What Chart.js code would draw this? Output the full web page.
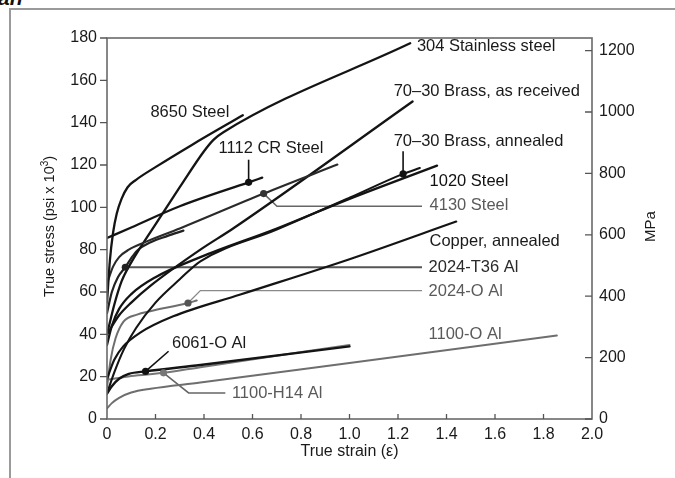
<!DOCTYPE html>
<html><head><meta charset="utf-8">
<script src="https://cdn.jsdelivr.net/npm/chart.js@4/dist/chart.umd.min.js"></script>
<style>
html,body{margin:0;padding:0;background:#fff;width:675px;height:478px;overflow:hidden;position:relative;}
#frame{position:absolute;left:9px;top:8px;width:720px;height:520px;border:2px solid #9a9a9a;box-sizing:border-box;}
#cap{position:absolute;left:-2px;top:-14px;font:italic bold 21px "Liberation Sans",Arial,sans-serif;color:#111;}
#wrap{position:absolute;left:0;top:0;width:675px;height:478px;}
</style></head><body>
<div id="cap">an</div>
<div id="frame"></div>
<div id="wrap"><canvas id="c"></canvas></div>
<script>
// ---- axis ticks ----
const STRAIN_TICKS = [0,0.2,0.4,0.6,0.8,1.0,1.2,1.4,1.6,1.8,2.0];
const STRAIN_TICK_LABELS = ['0','0.2','0.4','0.6','0.8','1.0','1.2','1.4','1.6','1.8','2.0'];
const PSI_TICKS = [0,20,40,60,80,100,120,140,160,180];
const PSI_TICK_LABELS = ['0','20','40','60','80','100','120','140','160','180'];
const MPA_TICKS = [0,200,400,600,800,1000,1200];
const MPA_TICK_LABELS = ['0','200','400','600','800','1000','1200'];
const PSI_TO_MPA = 6.895;

// ---- curves: [true strain, true stress (ksi)] ----
const steel8650 = [[0,55],[0.012,75],[0.025,88],[0.04,97],[0.06,104],[0.085,109.5],[0.12,113],[0.2,119],[0.35,129.5],[0.56,143.5]];
const steel1112CR = [[0,85.5],[0.1,90.5],[0.3,100.5],[0.584,111.8],[0.64,114]];
const steel4130 = [[0,64],[0.025,72],[0.05,76.5],[0.09,80],[0.15,83.2],[0.3,90],[0.646,106.5],[0.95,120.2]];
const stainless304 = [[0,40],[0.03,54],[0.06,65],[0.1,74],[0.2,92],[0.3,109.5],[0.4,126.5],[0.44,132],[0.48,135.5],[1.25,177.5]];
const brassAsReceived = [[0,40],[0.05,49],[0.1,55],[0.18,63],[0.385,80],[0.52,90],[1.26,150]];
const brassAnnealed = [[0,12],[0.03,22],[0.07,33],[0.12,43],[0.2,55],[0.3,66],[0.385,74.5],[0.7,89.5],[1.0,104.5],[1.221,115.8],[1.29,118.6]];
const steel1020 = [[0,35],[0.02,44],[0.05,52],[0.1,59],[0.2,67],[0.385,76.5],[0.7,90],[1.0,104],[1.361,119.7]];
const copperAnnealed = [[0,19],[0.03,28],[0.067,34.3],[0.137,40.8],[0.273,48.5],[0.55,58.8],[1.0,75.5],[1.44,93.3]];
const al2024T36 = [[0,50],[0.02,60],[0.045,67],[0.0755,71.7],[0.1,76],[0.124,79.5],[0.18,83.5],[0.25,86.5],[0.315,89]];
const al2024O = [[0,15],[0.015,28],[0.035,38],[0.068,46],[0.124,49.3],[0.178,50.9],[0.334,54.8],[0.37,56]];
const al6061O = [[0,12],[0.02,15.5],[0.05,19],[0.09,21.3],[0.159,22.5],[0.385,25.5],[1.0,34.3]];
const al1100H14 = [[0,18.5],[0.1,20.3],[0.233,21.8],[0.385,24.5],[1.0,35]];
const al1100O = [[0,5],[0.02,7.5],[0.05,10],[0.1,12.5],[0.18,14.3],[0.385,17.2],[1.0,26.5],[1.855,39.4]];

// ---- marked points on curves ----
const markerPoints = [[0.584,111.8],[0.646,106.5],[1.221,115.8],[0.0755,71.7],[0.334,54.8],[0.159,22.5],[0.233,21.8]];

// ---- styling / annotation layout ----
const BLACK = '#141414', GRAY = '#6e6e6e';
const CURVES = [
  {d: steel8650, c: BLACK, w: 2.3},
  {d: steel1112CR, c: BLACK, w: 2.3},
  {d: steel4130, c: '#2a2a2a', w: 2.1},
  {d: stainless304, c: BLACK, w: 2.3},
  {d: brassAsReceived, c: BLACK, w: 2.3},
  {d: brassAnnealed, c: BLACK, w: 2.1},
  {d: steel1020, c: BLACK, w: 2.3},
  {d: copperAnnealed, c: BLACK, w: 2.2},
  {d: al2024T36, c: '#222', w: 2.2},
  {d: al2024O, c: GRAY, w: 2.0},
  {d: al6061O, c: BLACK, w: 2.4},
  {d: al1100H14, c: '#777', w: 2.0},
  {d: al1100O, c: GRAY, w: 2.0}
];
const MARKER_COLORS = ['#111','#333','#111','#222','#555','#111','#777'];
const CALLOUTS = [
  {p: [[0.584,111.8],[0.584,122.5]], c: '#111', w: 1.6},
  {p: [[0.646,106.5],[0.701,100.5],[1.299,100.5]], c: '#666', w: 1.6},
  {p: [[1.221,115.8],[1.221,126.5]], c: '#111', w: 1.6},
  {p: [[0.0755,71.7],[1.299,71.7]], c: '#555', w: 1.8},
  {p: [[0.334,54.8],[0.385,60.65],[1.299,60.65]], c: '#8a8a8a', w: 1.4},
  {p: [[0.159,22.5],[0.254,32.0]], c: '#111', w: 1.6},
  {p: [[0.233,21.8],[0.3365,12.3],[0.488,12.3]], c: '#666', w: 1.6}
];
const LABELS = [
  {t: '8650 Steel', x: 0.179, y: 144.9, c: '#1a1a1a'},
  {t: '1112 CR Steel', x: 0.460, y: 127.6, c: '#1a1a1a'},
  {t: '304 Stainless steel', x: 1.278, y: 175.8, c: '#1a1a1a'},
  {t: '70\u201330 Brass, as received', x: 1.182, y: 154.8, c: '#1a1a1a'},
  {t: '70\u201330 Brass, annealed', x: 1.182, y: 131.2, c: '#1a1a1a'},
  {t: '1020 Steel', x: 1.330, y: 112.3, c: '#111'},
  {t: '4130 Steel', x: 1.330, y: 100.8, c: '#5a5a5a'},
  {t: 'Copper, annealed', x: 1.330, y: 83.9, c: '#1a1a1a'},
  {t: '2024-T36 Al', x: 1.326, y: 71.8, c: '#2a2a2a'},
  {t: '2024-O Al', x: 1.326, y: 60.3, c: '#5a5a5a'},
  {t: '1100-O Al', x: 1.326, y: 39.9, c: '#5a5a5a'},
  {t: '6061-O Al', x: 0.268, y: 35.6, c: '#1a1a1a'},
  {t: '1100-H14 Al', x: 0.515, y: 12.0, c: '#5a5a5a'}
];

const FONT = '"Liberation Sans", Arial, Helvetica, sans-serif';
Chart.defaults.font.family = FONT;

const toXY = arr => arr.map(([x, y]) => ({x, y}));
const datasets = [];
datasets.push({
  data: toXY(markerPoints), showLine: false,
  pointRadius: 3.6, pointHoverRadius: 3.6,
  pointBackgroundColor: MARKER_COLORS, pointBorderColor: MARKER_COLORS, pointBorderWidth: 0
});
CURVES.forEach(cv => datasets.push({
  data: toXY(cv.d), showLine: true, borderColor: cv.c, borderWidth: cv.w,
  pointRadius: 0, fill: false, cubicInterpolationMode: 'monotone',
  borderCapStyle: 'round', borderJoinStyle: 'round'
}));
CALLOUTS.forEach(co => datasets.push({
  data: toXY(co.p), showLine: true, borderColor: co.c, borderWidth: co.w,
  pointRadius: 0, fill: false, tension: 0
}));

const decor = {
  id: 'decor',
  afterDraw(chart) {
    const {ctx, chartArea: a, scales} = chart;
    const xs = scales.x, ys = scales.y, y2 = scales.y2;
    ctx.save();
    // frame
    ctx.strokeStyle = '#6a6a6a'; ctx.lineWidth = 1.6;
    ctx.strokeRect(a.left, a.top, a.right - a.left, a.bottom - a.top);
    // ticks
    ctx.lineWidth = 1.3; ctx.strokeStyle = '#555';
    ctx.beginPath();
    PSI_TICKS.forEach(v => { const y = ys.getPixelForValue(v); ctx.moveTo(a.left - 7, y); ctx.lineTo(a.left, y); });
    MPA_TICKS.forEach(v => { const y = y2.getPixelForValue(v); ctx.moveTo(a.right - 7, y); ctx.lineTo(a.right, y); });
    STRAIN_TICKS.slice(1, -1).forEach(v => { const x = xs.getPixelForValue(v); ctx.moveTo(x, a.bottom); ctx.lineTo(x, a.bottom - 5); });
    ctx.stroke();
    // curve labels
    ctx.font = '16.5px ' + FONT; ctx.textBaseline = 'middle'; ctx.textAlign = 'left';
    LABELS.forEach(l => { ctx.fillStyle = l.c; ctx.fillText(l.t, xs.getPixelForValue(l.x), ys.getPixelForValue(l.y)); });
    // x title
    ctx.fillStyle = '#1a1a1a'; ctx.textAlign = 'center';
    ctx.font = '16px ' + FONT;
    ctx.fillText('True strain (\u03b5)', (a.left + a.right) / 2 + 0, 452);
    // left title with superscript
    ctx.save();
    ctx.translate(50, (a.top + a.bottom) / 2 - 2);
    ctx.rotate(-Math.PI / 2);
    ctx.textAlign = 'left';
    const f1 = '14.5px ' + FONT, f2 = '10px ' + FONT;
    const s1 = 'True stress (psi x 10', s2 = '3', s3 = ')';
    ctx.font = f1; const w1 = ctx.measureText(s1).width, w3 = ctx.measureText(s3).width;
    ctx.font = f2; const w2 = ctx.measureText(s2).width;
    let x0 = -(w1 + w2 + w3) / 2;
    ctx.font = f1; ctx.fillText(s1, x0, 0);
    ctx.font = f2; ctx.fillText(s2, x0 + w1, -5);
    ctx.font = f1; ctx.fillText(s3, x0 + w1 + w2, 0);
    ctx.restore();
    // right title
    ctx.save();
    ctx.translate(651, (a.top + a.bottom) / 2 - 2);
    ctx.rotate(-Math.PI / 2);
    ctx.textAlign = 'center'; ctx.font = '15px ' + FONT;
    ctx.fillText('MPa', 0, 0);
    ctx.restore();
    ctx.restore();
  }
};

const tickFont = {size: 16, family: FONT};
new Chart(document.getElementById('c'), {
  type: 'scatter',
  data: {datasets},
  options: {
    responsive: true, maintainAspectRatio: false, animation: false,
    layout: {padding: {top: 38, left: 0, right: 0, bottom: 0}},
    plugins: {legend: {display: false}, tooltip: {enabled: false}},
    events: [],
    scales: {
      x: {
        type: 'linear', position: 'bottom', min: 0, max: 2,
        afterBuildTicks: s => { s.ticks = STRAIN_TICKS.map(v => ({value: v})); },
        afterFit: s => { s.height = 59; },
        grid: {display: false, drawTicks: false}, border: {display: false},
        ticks: {padding: 6, color: '#1a1a1a', font: tickFont, maxRotation: 0, autoSkip: false,
          callback: (v, i) => STRAIN_TICK_LABELS[i]}
      },
      y: {
        type: 'linear', position: 'left', min: 0, max: 180,
        afterBuildTicks: s => { s.ticks = PSI_TICKS.map(v => ({value: v})); },
        afterFit: s => { s.width = 107; },
        grid: {display: false, drawTicks: false}, border: {display: false},
        ticks: {padding: 10, color: '#1a1a1a', font: tickFont, autoSkip: false,
          callback: (v, i) => PSI_TICK_LABELS[i]}
      },
      y2: {
        type: 'linear', position: 'right', min: 0, max: 180 * PSI_TO_MPA,
        afterBuildTicks: s => { s.ticks = MPA_TICKS.map(v => ({value: v})); },
        afterFit: s => { s.width = 83; },
        grid: {display: false, drawTicks: false}, border: {display: false},
        ticks: {padding: 7, color: '#1a1a1a', font: tickFont, autoSkip: false,
          callback: (v, i) => MPA_TICK_LABELS[i]}
      }
    }
  },
  plugins: [decor]
});
</script>
</body></html>
